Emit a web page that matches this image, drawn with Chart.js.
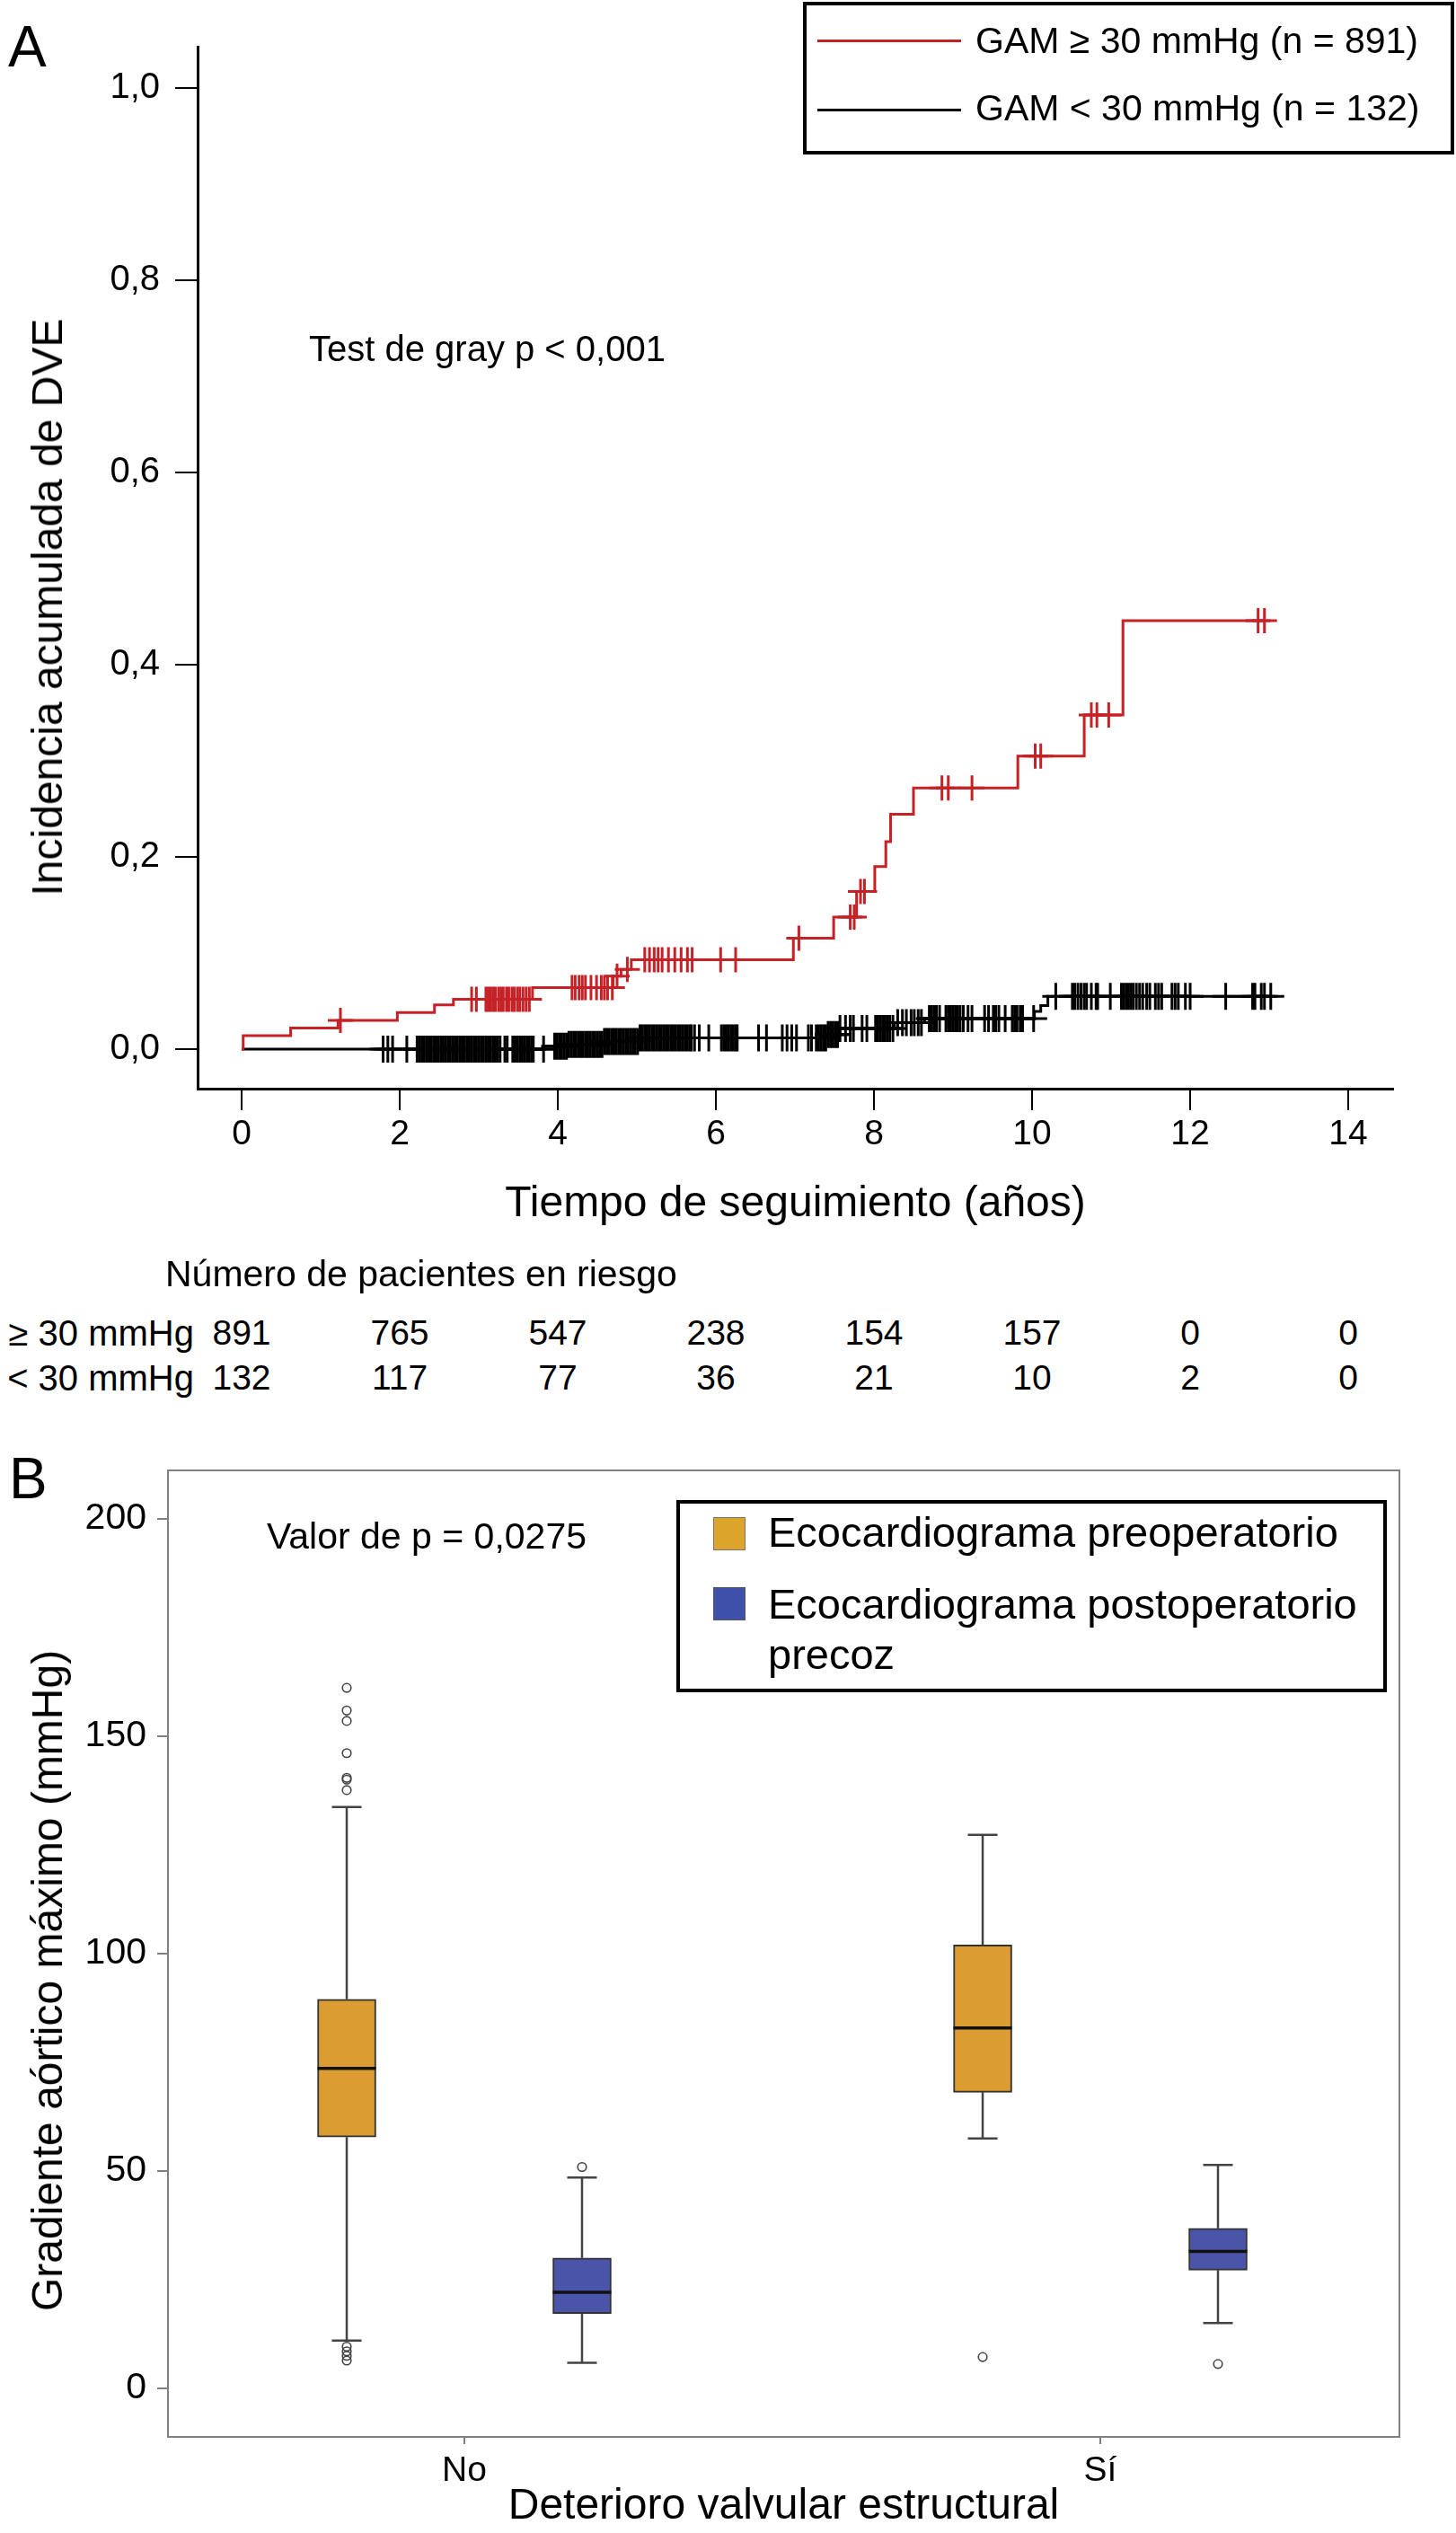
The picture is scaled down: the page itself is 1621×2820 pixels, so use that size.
<!DOCTYPE html>
<html><head><meta charset="utf-8">
<script src="https://cdn.jsdelivr.net/npm/chart.js@4.4.1/dist/chart.umd.min.js"></script>
<style>
html,body{margin:0;padding:0;background:#fff}
body{position:relative;width:1621px;height:2820px;overflow:hidden;font-family:"Liberation Sans",Arial,Helvetica,sans-serif;color:#000}
canvas{position:absolute;left:0}
.t{position:absolute;white-space:nowrap;line-height:1;color:#000}
</style></head><body>
<canvas id="chartA" width="1621" height="1400" style="top:0;width:1621px;height:1400px"></canvas>
<canvas id="chartB" width="1621" height="1220" style="top:1600px;width:1621px;height:1220px"></canvas>

<div class="t" style="left:9px;top:20px;font-size:64px">A</div>
<div class="t" style="left:344px;top:368px;font-size:40px">Test de gray p &lt; 0,001</div>
<div class="t" style="left:53px;top:676px;font-size:48px;transform:translate(-50%,-50%) rotate(-90deg)">Incidencia acumulada de DVE</div>

<div style="position:absolute;left:894px;top:2px;width:725px;height:170px;box-sizing:border-box;border:4px solid #000"></div>
<div style="position:absolute;left:910px;top:44px;width:160px;height:3px;background:#C52126"></div>
<div style="position:absolute;left:910px;top:121px;width:160px;height:3px;background:#000"></div>
<div class="t" id="legA1" style="left:1086px;top:25px;font-size:41px"></div>
<div class="t" id="legA2" style="left:1086px;top:100px;font-size:41px"></div>

<div class="t" style="left:184px;top:1398px;font-size:41px">Número de pacientes en riesgo</div>
<div class="t" id="rowLab1" style="left:0;width:216px;text-align:right;top:1464px;font-size:40px"></div>
<div class="t" id="rowLab2" style="left:0;width:216px;text-align:right;top:1514px;font-size:40px"></div>

<div class="t" style="left:10px;top:1614px;font-size:64px">B</div>
<div class="t" style="left:297px;top:1690px;font-size:41px">Valor de p = 0,0275</div>
<div class="t" style="left:53px;top:2205px;font-size:48px;transform:translate(-50%,-50%) rotate(-90deg)">Gradiente aórtico máximo (mmHg)</div>

<div style="position:absolute;left:753px;top:1670px;width:791px;height:214px;box-sizing:border-box;border:4px solid #000"></div>
<div style="position:absolute;left:794px;top:1689px;width:36px;height:37px;box-sizing:border-box;background:#DAA52A;border:1px solid #777"></div>
<div style="position:absolute;left:794px;top:1767px;width:36px;height:37px;box-sizing:border-box;background:#3F50A8;border:1px solid #556"></div>
<div class="t" id="legB1" style="left:855px;top:1682px;font-size:47px"></div>
<div class="t" id="legB2" style="left:855px;top:1762px;font-size:47px"></div>
<div class="t" id="legB3" style="left:855px;top:1818px;font-size:47px"></div>

<script>
const FONT = '"Liberation Sans", Arial, Helvetica, sans-serif';
const RED = '#C52126';

// ---------------- Panel A data ----------------
const xTickValuesA = [0, 2, 4, 6, 8, 10, 12, 14];
const yTickValuesA = [0, 0.2, 0.4, 0.6, 0.8, 1.0];
const yTickLabelsA = ['0,0', '0,2', '0,4', '0,6', '0,8', '1,0'];
const legendA = ['GAM ≥ 30 mmHg (n = 891)', 'GAM < 30 mmHg (n = 132)'];

const redStepTimes  = [0, 0.02, 0.62, 1.22, 1.97, 2.44, 2.68, 3.68, 4.70, 4.80, 4.93, 6.98, 7.49, 7.78, 8.01, 8.15, 8.21, 8.50, 9.82, 10.66, 11.15, 12.94];
const redStepValues = [0, 0.014, 0.022, 0.030, 0.038, 0.046, 0.052, 0.064, 0.076, 0.083, 0.093, 0.1155, 0.1375, 0.164, 0.190, 0.216, 0.2445, 0.2717, 0.305, 0.3476, 0.4458, 0.4458];

const blackStepTimes  = [0, 3.96, 4.13, 4.59, 5.03, 7.40, 7.57, 8.26, 8.64, 10.03, 10.11, 10.20, 13.02];
const blackStepValues = [0, 0.003, 0.005, 0.008, 0.0117, 0.0153, 0.0215, 0.0277, 0.0318, 0.0392, 0.0454, 0.055, 0.055];

const redCensorTimes = [1.25, 2.91, 2.97, 3.09, 3.12, 3.15, 3.18, 3.21, 3.25, 3.28, 3.31, 3.35, 3.38, 3.42, 3.45, 3.49, 3.52, 3.56, 3.60, 3.64,
  4.18, 4.22, 4.27, 4.31, 4.35, 4.42, 4.49, 4.55, 4.59, 4.63, 4.69, 4.75, 4.88,
  5.10, 5.16, 5.22, 5.27, 5.32, 5.40, 5.48, 5.56, 5.64, 5.70, 6.06, 6.25,
  7.05, 7.70, 7.75, 7.83, 7.88, 8.86, 8.94, 9.24, 10.04, 10.11, 10.75, 10.82, 10.97, 12.86, 12.94];

const blackCensorTimes = [1.79, 1.85, 1.91, 2.09,
  2.22, 2.25, 2.28, 2.31, 2.34, 2.37, 2.40, 2.43, 2.46, 2.49, 2.52, 2.55, 2.58, 2.61, 2.64, 2.67, 2.70, 2.73,
  2.76, 2.79, 2.82, 2.85, 2.88, 2.91, 2.94, 2.97, 3.00, 3.03, 3.06, 3.09, 3.12, 3.15, 3.18, 3.21, 3.24, 3.27,
  3.33, 3.36, 3.43, 3.46, 3.49, 3.52, 3.55, 3.58, 3.61, 3.64, 3.67, 3.69, 3.82,
  3.96, 3.99, 4.02, 4.05, 4.08, 4.11, 4.14, 4.17, 4.20, 4.23, 4.26, 4.29, 4.32, 4.35, 4.38, 4.41, 4.44, 4.47,
  4.50, 4.53, 4.56, 4.59, 4.62, 4.65, 4.68, 4.71, 4.74, 4.77, 4.80, 4.83, 4.86, 4.89, 4.92, 4.95, 4.98, 5.01,
  5.04, 5.07, 5.10, 5.13, 5.16, 5.19, 5.22, 5.25, 5.28, 5.31, 5.34, 5.37, 5.40, 5.43, 5.46, 5.49, 5.52, 5.55,
  5.58, 5.61, 5.64, 5.67, 5.69, 5.73, 5.79, 5.91,
  6.07, 6.10, 6.13, 6.16, 6.19, 6.22, 6.25, 6.27, 6.54, 6.64, 6.84, 6.90, 6.96, 7.02, 7.17, 7.21,
  7.27, 7.30, 7.33, 7.36, 7.39, 7.42, 7.45, 7.48, 7.51, 7.54, 7.57, 7.64, 7.70, 7.74, 7.85, 7.91,
  8.02, 8.05, 8.08, 8.11, 8.14, 8.17, 8.20, 8.24, 8.30, 8.36, 8.41, 8.47, 8.51, 8.56, 8.60,
  8.70, 8.73, 8.76, 8.79, 8.83, 8.91, 8.94, 8.97, 9.00, 9.03, 9.06, 9.09, 9.13, 9.19, 9.24,
  9.40, 9.45, 9.51, 9.54, 9.58, 9.66, 9.75, 9.78, 9.81, 9.85, 9.88, 10.02,
  10.30, 10.51, 10.54, 10.58, 10.62, 10.66, 10.69, 10.75, 10.81, 10.83,
  10.99, 11.13, 11.16, 11.19, 11.22, 11.25, 11.28, 11.32, 11.36, 11.40, 11.45, 11.49, 11.56, 11.60, 11.64,
  11.77, 11.81, 11.85, 11.94, 12.00, 12.45, 12.79, 12.82, 12.90, 12.94, 13.02];

const riskTimes = [0, 2, 4, 6, 8, 10, 12, 14];
const riskLabels = ['≥ 30 mmHg', '< 30 mmHg'];
const riskHigh = [891, 765, 547, 238, 154, 157, 0, 0];
const riskLow  = [132, 117, 77, 36, 21, 10, 2, 0];

// ---------------- Panel B data ----------------
const groupsB = ['No', 'Sí'];
const seriesB = ['Ecocardiograma preoperatorio', 'Ecocardiograma postoperatorio', 'precoz'];
const yTickValuesB = [0, 50, 100, 150, 200];
const preLow    = [11.0, 57.5];
const preQ1     = [57.8, 68.1];
const preMedian = [73.6, 82.9];
const preQ3     = [89.5, 102.0];
const preHigh   = [133.7, 127.3];
const preOutliers = [[161.1, 155.9, 153.5, 146.1, 140.4, 140.0, 137.6, 9.6, 8.5, 7.5, 6.4], [7.2]];
const postLow    = [5.9, 15.0];
const postQ1     = [17.2, 27.2];
const postMedian = [22.1, 31.5];
const postQ3     = [30.0, 36.8];
const postHigh   = [48.5, 51.4];
const postOutliers = [[50.9], [5.6]];

// ---------------- helpers ----------------
function stepAt(times, values, t) {
  let v = values[0];
  for (let i = 0; i < times.length; i++) { if (times[i] <= t) v = values[i]; }
  return v;
}
const pts = (ts, vs) => ts.map((t, i) => ({x: t, y: vs[i]}));
const censorPts = (cs, ts, vs) => cs.map(t => ({x: t, y: stepAt(ts, vs, t)}));

document.getElementById('legA1').textContent = legendA[0];
document.getElementById('legA2').textContent = legendA[1];
document.getElementById('rowLab1').textContent = riskLabels[0];
document.getElementById('rowLab2').textContent = riskLabels[1];
document.getElementById('legB1').textContent = seriesB[0];
document.getElementById('legB2').textContent = seriesB[1];
document.getElementById('legB3').textContent = seriesB[2];

// ---------------- Chart A ----------------
const chartA = new Chart(document.getElementById('chartA'), {
  type: 'scatter',
  data: { datasets: [
    { type: 'scatter', label: legendA[0] + ' (censura)', data: censorPts(redCensorTimes, redStepTimes, redStepValues),
      pointStyle: 'cross', pointRadius: 14, pointBorderWidth: 3, pointBorderColor: RED, borderColor: RED, order: 0 },
    { type: 'line', label: legendA[0], data: pts(redStepTimes, redStepValues), stepped: true,
      borderColor: RED, borderWidth: 3, pointRadius: 0, fill: false, order: 1 },
    { type: 'scatter', label: legendA[1] + ' (censura)', data: censorPts(blackCensorTimes, blackStepTimes, blackStepValues),
      pointStyle: 'cross', pointRadius: 15, pointBorderWidth: 3, pointBorderColor: '#000', borderColor: '#000', order: 2 },
    { type: 'line', label: legendA[1], data: pts(blackStepTimes, blackStepValues), stepped: true,
      borderColor: '#000', borderWidth: 3, pointRadius: 0, fill: false, order: 3 }
  ]},
  options: {
    responsive: false, animation: false, events: [], devicePixelRatio: 1,
    layout: { padding: { left: 0, top: 52, right: 70, bottom: 0 } },
    plugins: { legend: { display: false }, tooltip: { enabled: false } },
    scales: {
      x: {
        type: 'linear', min: -0.5568, max: 14.568,
        afterBuildTicks: s => { s.ticks = xTickValuesA.map(v => ({value: v})); },
        afterFit: s => { s.height = 188; },
        grid: { display: true, drawOnChartArea: false, drawTicks: true, tickLength: 24, color: '#000', lineWidth: 2 },
        border: { display: true, color: '#000', width: 3 },
        ticks: { color: '#000', font: { family: FONT, size: 39 }, padding: 4, maxRotation: 0, autoSkip: false,
                 callback: v => String(v) },
        title: { display: true, text: 'Tiempo de seguimiento (años)', color: '#000',
                 font: { family: FONT, size: 48 }, padding: { top: 0, bottom: 30 } }
      },
      y: {
        type: 'linear', min: -0.0411, max: 1.043,
        afterBuildTicks: s => { s.ticks = yTickValuesA.map(v => ({value: v})); },
        afterFit: s => { s.width = 220; },
        grid: { display: true, drawOnChartArea: false, drawTicks: true, tickLength: 25, color: '#000', lineWidth: 2 },
        border: { display: true, color: '#000', width: 3 },
        ticks: { color: '#000', font: { family: FONT, size: 40 }, padding: 17, autoSkip: false,
                 callback: v => yTickLabelsA[yTickValuesA.indexOf(v)] }
      }
    }
  }
});

// at-risk table placed on the chart's own x scale
const sxA = chartA.scales.x;
function addText(txt, x, top, size) {
  const d = document.createElement('div');
  d.className = 't';
  d.style.left = x + 'px'; d.style.top = top + 'px'; d.style.fontSize = size + 'px';
  d.style.transform = 'translateX(-50%)';
  d.textContent = txt;
  document.body.appendChild(d);
}
riskTimes.forEach((t, i) => {
  const px = sxA.getPixelForValue(t);
  addText(String(riskHigh[i]), px, 1464, 39);
  addText(String(riskLow[i]), px, 1514, 39);
});

// ---------------- Chart B ----------------
const BOX_OFFSET = 0.185;
const xPre  = groupsB.map((g, i) => i + 1 - BOX_OFFSET);
const xPost = groupsB.map((g, i) => i + 1 + BOX_OFFSET);

const boxes = [];
groupsB.forEach((g, i) => {
  boxes.push({x: xPre[i],  lo: preLow[i],  q1: preQ1[i],  med: preMedian[i],  q3: preQ3[i],  hi: preHigh[i],  out: preOutliers[i]});
  boxes.push({x: xPost[i], lo: postLow[i], q1: postQ1[i], med: postMedian[i], q3: postQ3[i], hi: postHigh[i], out: postOutliers[i]});
});
const whiskerPts = [];
const capPts = [];
const medianPts = [];
const outlierPts = [];
boxes.forEach(b => {
  whiskerPts.push({x: b.x, y: b.q3}, {x: b.x, y: b.hi}, {x: b.x, y: null}, {x: b.x, y: b.q1}, {x: b.x, y: b.lo}, {x: b.x, y: null});
  capPts.push({x: b.x, y: b.hi}, {x: b.x, y: b.lo});
  medianPts.push({x: b.x, y: b.med});
  b.out.forEach(o => outlierPts.push({x: b.x, y: o}));
});

const GRAYB = '#808080';
new Chart(document.getElementById('chartB'), {
  type: 'bar',
  data: { datasets: [
    { type: 'scatter', label: 'Mediana', data: medianPts, pointStyle: 'line', pointRadius: 32.5,
      pointBorderWidth: 3.5, pointBorderColor: '#111', borderColor: '#111', order: 0 },
    { type: 'scatter', label: 'Extremos', data: capPts, pointStyle: 'line', pointRadius: 16.5,
      pointBorderWidth: 2.5, pointBorderColor: '#444', borderColor: '#444', order: 1 },
    { type: 'scatter', label: 'Valores atípicos', data: outlierPts, pointStyle: 'circle', pointRadius: 4.8,
      pointBorderWidth: 1.6, pointBorderColor: '#444', pointBackgroundColor: 'rgba(0,0,0,0)', order: 1 },
    { type: 'bar', label: seriesB[0], data: groupsB.map((g, i) => ({x: xPre[i], y: [preQ1[i], preQ3[i]]})),
      backgroundColor: '#DB9C31', borderColor: '#333', borderWidth: 2, borderSkipped: false,
      barThickness: 65, grouped: false, order: 2 },
    { type: 'bar', label: seriesB[1] + ' ' + seriesB[2], data: groupsB.map((g, i) => ({x: xPost[i], y: [postQ1[i], postQ3[i]]})),
      backgroundColor: '#4A54A8', borderColor: '#333', borderWidth: 2, borderSkipped: false,
      barThickness: 65, grouped: false, order: 2 },
    { type: 'line', label: 'Bigotes', data: whiskerPts, borderColor: '#444', borderWidth: 2.5,
      pointRadius: 0, spanGaps: false, fill: false, order: 3 }
  ]},
  options: {
    responsive: false, animation: false, events: [], devicePixelRatio: 1,
    layout: { padding: { left: 0, top: 27, right: 63, bottom: 0 } },
    plugins: { legend: { display: false }, tooltip: { enabled: false } },
    scales: {
      x: {
        type: 'linear', position: 'bottom', min: 0.5339, max: 2.4703, offset: false,
        afterBuildTicks: s => { s.ticks = groupsB.map((g, i) => ({value: i + 1})); },
        afterFit: s => { s.height = 107; },
        grid: { display: true, offset: false, drawOnChartArea: false, drawTicks: true, tickLength: 8, color: GRAYB, lineWidth: 2 },
        border: { display: true, color: GRAYB, width: 2 },
        ticks: { color: '#000', font: { family: FONT, size: 39 }, padding: 7, maxRotation: 0, autoSkip: false,
                 callback: v => groupsB[v - 1] },
        title: { display: true, text: 'Deterioro valvular estructural', color: '#000',
                 font: { family: FONT, size: 48 }, padding: { top: 0, bottom: 0 } }
      },
      y: {
        type: 'linear', position: 'left', min: -11.16, max: 211.2,
        afterBuildTicks: s => { s.ticks = yTickValuesB.map(v => ({value: v})); },
        afterFit: s => { s.width = 187; },
        grid: { display: true, drawOnChartArea: false, drawTicks: true, tickLength: 12, color: GRAYB, lineWidth: 2 },
        border: { display: true, color: GRAYB, width: 2 },
        ticks: { color: '#000', font: { family: FONT, size: 41 }, padding: 12, autoSkip: false,
                 callback: v => String(v) }
      },
      x2: {
        type: 'linear', position: 'top', min: 0.5339, max: 2.4703, offset: false,
        afterFit: s => { s.height = 0; },
        grid: { display: false, offset: false, drawTicks: false }, ticks: { display: false },
        border: { display: true, color: GRAYB, width: 2 }
      },
      y2: {
        type: 'linear', position: 'right', min: -11.16, max: 211.2,
        afterFit: s => { s.width = 0; },
        grid: { display: false, drawTicks: false }, ticks: { display: false },
        border: { display: true, color: GRAYB, width: 2 }
      }
    }
  }
});
</script>
</body></html>
